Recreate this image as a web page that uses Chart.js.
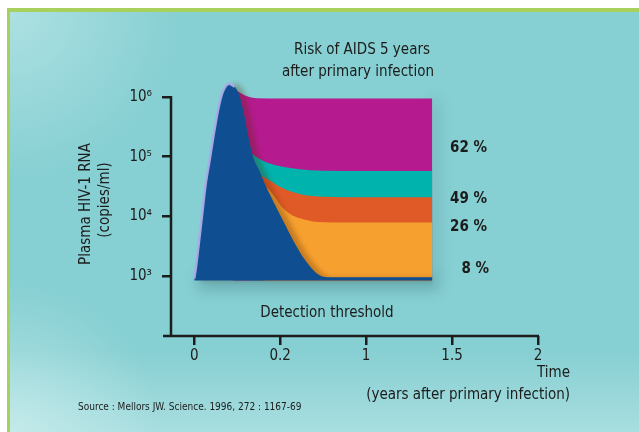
<!DOCTYPE html>
<html>
<head>
<meta charset="utf-8">
<script src="https://cdn.jsdelivr.net/npm/chart.js@4.4.1/dist/chart.umd.min.js"></script>
<style>
html,body{margin:0;padding:0;background:#fff;}
#wrap{width:639px;height:432px;}
</style>
</head>
<body>
<div id="wrap"><canvas id="c" width="639" height="432"></canvas></div>
<script>
// ---- data (x in tick-index units: 0 -> "0", 1 -> "0.2", 2 -> "1", 3 -> "1.5", 4 -> "2") ----
const xTickVals = [0, 1, 2, 3, 4];
const xTickLabels = ['0', '0.2', '1', '1.5', '2'];
const yTickVals = [1e3, 1e4, 1e5, 1e6];
const yTickLabels = ['10\u00B3', '10\u2074', '10\u2075', '10\u2076'];

const peakX = [0, 0.02, 0.05, 0.09, 0.13, 0.18, 0.23, 0.28, 0.33, 0.41, 0.47, 0.52, 0.57, 0.63, 0.69, 0.76, 0.82, 0.92, 1.03, 1.15, 1.29, 1.43, 1.55, 2.77];
const peakY = [910, 1400, 3200, 10000, 32000, 89000, 250000, 630000, 1200000, 1660000, 1480000, 1120000, 600000, 214000, 95000, 57500, 35500, 17800, 8700, 4000, 1860, 1100, 965, 965];

const band62X = [0.45, 0.5, 0.6, 0.73, 1.0, 2.77];
const band62Y = [1410000, 1260000, 1050000, 955000, 945000, 945000];

const band49X = [0.67, 0.75, 0.85, 1.0, 1.2, 1.5, 2.0, 2.77];
const band49Y = [112000, 93000, 79000, 69000, 62000, 58000, 57500, 57500];

const band26X = [0.76, 0.82, 0.88, 1.0, 1.1, 1.25, 1.5, 2.0, 2.77];
const band26Y = [50000, 44700, 39800, 31000, 27000, 23400, 21400, 20900, 20900];

const band8X = [0.82, 0.87, 0.95, 1.03, 1.13, 1.23, 1.43, 1.8, 2.77];
const band8Y = [31600, 28200, 20000, 13800, 10700, 9300, 8100, 7940, 7940];

const baseValue = 850;
const riskLabels = ['62 %', '49 %', '26 %', '8 %'];

const toPts = (xs, ys) => xs.map((x, i) => ({x: x, y: ys[i]}));

const FONT = '"Liberation Sans Narrow", "DejaVu Sans Condensed", "Open Sans", sans-serif';
const INK = '#1c1c1c';

const bgPlugin = {
  id: 'bg',
  beforeDraw(chart) {
    const c = chart.ctx, W = chart.width, H = chart.height;
    c.save();
    c.fillStyle = '#ffffff';
    c.fillRect(0, 0, W, H);
    c.fillStyle = '#86cfd2';
    c.fillRect(7, 8, W - 7, H - 8);
    let g = c.createRadialGradient(10, 10, 0, 10, 10, 170);
    g.addColorStop(0, 'rgba(190,232,234,0.7)');
    g.addColorStop(1, 'rgba(190,232,234,0)');
    c.fillStyle = g; c.fillRect(7, 8, W - 7, H - 8);
    g = c.createLinearGradient(0, 350, 0, H);
    g.addColorStop(0, 'rgba(210,240,240,0)');
    g.addColorStop(1, 'rgba(210,240,240,0.45)');
    c.fillStyle = g; c.fillRect(7, 8, W - 7, H - 8);
    g = c.createRadialGradient(10, H, 0, 10, H, 150);
    g.addColorStop(0, 'rgba(215,242,242,0.6)');
    g.addColorStop(1, 'rgba(215,242,242,0)');
    c.fillStyle = g; c.fillRect(7, 8, W - 7, H - 8);
    c.fillStyle = '#a8d05c';
    c.fillRect(7, 8, W - 7, 4);
    c.fillRect(7, 8, 3, H - 8);
    c.restore();
  },
  beforeDatasetsDraw(chart) {
    const c = chart.ctx, xs = chart.scales.x, ys = chart.scales.y;
    const x0 = xs.getPixelForValue(0), x1 = xs.getPixelForValue(2.77);
    const yb = ys.getPixelForValue(1000);
    c.save();
    c.filter = 'blur(7px)';
    c.fillStyle = 'rgba(30,90,100,0.32)';
    c.fillRect(x0 + 4, yb, x1 - x0 + 2, 13);
    c.fillRect(x1, ys.getPixelForValue(900000), 5, yb - ys.getPixelForValue(900000));
    c.restore();
  },
  afterDatasetDraw(chart, args) {
    const c = chart.ctx;
    if (args.index === 2) {
      c.shadowColor = 'rgba(90,40,0,0.3)';
      c.shadowBlur = 5;
      c.shadowOffsetX = 6;
    } else if (args.index === 1) {
      c.shadowColor = 'rgba(0,0,0,0)';
      c.shadowBlur = 0;
      c.shadowOffsetX = 0;
    }
  },
  afterDraw(chart) {
    const c = chart.ctx, xs = chart.scales.x, ys = chart.scales.y, a = chart.chartArea;
    c.save();
    c.shadowColor = 'rgba(0,0,0,0)';
    // axis lines
    c.strokeStyle = INK; c.lineWidth = 2.5; c.lineCap = 'butt';
    c.beginPath();
    c.moveTo(a.left, ys.getPixelForValue(1e6) - 1);
    c.lineTo(a.left, a.bottom + 1);
    c.moveTo(a.left - 8, a.bottom);
    c.lineTo(a.right + 1, a.bottom);
    c.stroke();
    c.fillStyle = INK;
    c.textBaseline = 'middle';
    // title
    c.font = '15px ' + FONT;
    c.textAlign = 'center';
    c.fillText('Risk of AIDS 5 years', 362, 50);
    c.fillText('after primary infection', 358, 72);
    c.fillText('Detection threshold', 327, 313);
    // percentages
    c.font = 'bold 15px ' + FONT;
    c.textAlign = 'right';
    c.fillText(riskLabels[0], 487, 148);
    c.fillText(riskLabels[1], 487, 199);
    c.fillText(riskLabels[2], 487, 227);
    c.fillText(riskLabels[3], 489, 269);
    // x title
    c.font = '15px ' + FONT;
    c.textAlign = 'right';
    c.fillText('Time', 570, 373);
    c.fillText('(years after primary infection)', 570, 395);
    // source
    c.font = '10px ' + FONT;
    c.textAlign = 'left';
    c.fillText('Source : Mellors JW. Science. 1996, 272 : 1167-69', 78, 407);
    // y title
    c.font = '15px ' + FONT;
    c.textAlign = 'center';
    c.translate(86, 204); c.rotate(-Math.PI / 2);
    c.fillText('Plasma HIV-1 RNA', 0, 0);
    c.rotate(Math.PI / 2); c.translate(-86, -204);
    c.translate(105, 200); c.rotate(-Math.PI / 2);
    c.fillText('(copies/ml)', 0, 0);
    c.restore();
  }
};

const band = (label, xs, ys, color) => ({
  label: label,
  data: toPts(xs, ys),
  borderWidth: 0,
  borderColor: color,
  backgroundColor: color,
  fill: {value: baseValue},
  cubicInterpolationMode: 'monotone',
  pointRadius: 0
});

new Chart(document.getElementById('c'), {
  type: 'line',
  data: {
    datasets: [
      {
        label: 'highlight',
        data: toPts(peakX.slice(0, 11), peakY.slice(0, 11)),
        borderWidth: 2.5,
        borderColor: 'rgba(170,172,232,0.95)',
        fill: false,
        cubicInterpolationMode: 'monotone',
        pointRadius: 0
      },
      {
        label: 'primary infection',
        data: toPts(peakX, peakY),
        borderWidth: 0,
        borderColor: '#0f4f91',
        backgroundColor: '#0f4f91',
        fill: {value: baseValue},
        cubicInterpolationMode: 'monotone',
        pointRadius: 0
      },
      band('8 %', band8X, band8Y, '#f6a12f'),
      band('26 %', band26X, band26Y, '#df5a27'),
      band('49 %', band49X, band49Y, '#00b3ad'),
      band('62 %', band62X, band62Y, '#b51b8e')
    ]
  },
  options: {
    responsive: false,
    animation: false,
    layout: {padding: {top: 79, right: 101, left: 0, bottom: 0}},
    plugins: {legend: {display: false}, tooltip: {enabled: false}},
    scales: {
      x: {
        type: 'linear', min: -0.27, max: 4,
        afterBuildTicks: s => { s.ticks = xTickVals.map(v => ({value: v})); },
        afterFit: s => { s.height = 96; },
        border: {display: false},
        grid: {drawOnChartArea: false, drawTicks: true, tickLength: 9, color: INK, lineWidth: 2.5},
        ticks: {
          autoSkip: false, maxRotation: 0, padding: 2, color: INK,
          font: {family: FONT, size: 15},
          callback: (v, i) => xTickLabels[i]
        }
      },
      y: {
        type: 'logarithmic', min: 100, max: 1995262,
        afterBuildTicks: s => { s.ticks = yTickVals.map(v => ({value: v})); },
        afterFit: s => { s.width = 171; },
        border: {display: false},
        grid: {drawOnChartArea: false, drawTicks: true, tickLength: 9, color: INK, lineWidth: 2.5},
        ticks: {
          autoSkip: false, padding: 10, color: INK,
          font: {family: FONT, size: 15},
          callback: (v, i) => yTickLabels[i]
        }
      }
    }
  },
  plugins: [bgPlugin]
});
</script>
</body>
</html>
